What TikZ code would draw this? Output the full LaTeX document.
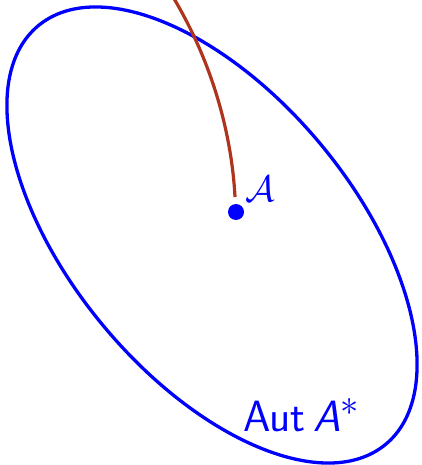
\documentclass[tikz,border=0pt]{standalone}
\begin{document}
\begin{tikzpicture}[x=1pt,y=1pt]
\definecolor{curvebrown}{RGB}{175,52,30}
\tikzset{ring/.style={draw=blue,line width=3.3pt},
  pathline/.style={draw=curvebrown,line width=3.2pt},
  dotnode/.style={circle,fill=blue,inner sep=0pt,minimum size=16pt},
  lbl/.style={text=blue,inner sep=0pt}}
\useasboundingbox (0,0) rectangle (421,-465);
\draw[ring] (212,-235) ellipse[x radius=272,y radius=141.6,rotate=-50.3];
\coordinate (top) at (170,8);
\node[dotnode] (A) at (236,-212) {};
\coordinate (end) at (235,-197);
\draw[pathline] (top) .. controls (215,-65) and (232,-140) .. (end);
\node[lbl,anchor=base west,scale=1.48] (Alab) at (245,-201) {\Huge$\mathcal{A}$};
\node[lbl,anchor=base west,scale=1.76] (Aut) at (243,-431) {\Huge\sffamily Aut\hspace{0.18em}\textit{A}$^{\ast}$};
\end{tikzpicture}
\end{document}
